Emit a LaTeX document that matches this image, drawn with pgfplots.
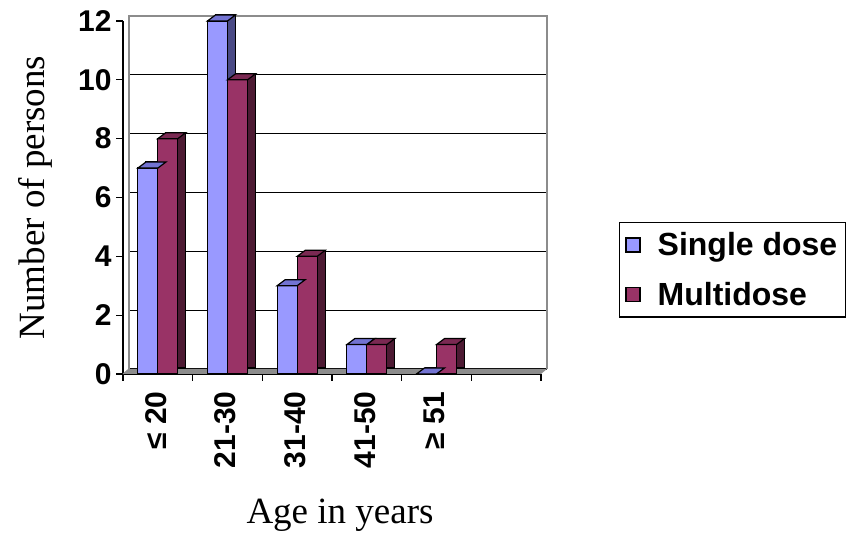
\documentclass[border=0pt]{standalone}
\usepackage{fontspec}
\setmainfont{Liberation Serif}
\newfontfamily\arial{Liberation Sans}
\usepackage{pgfplots}
\pgfplotsset{compat=1.18}

\definecolor{sFront}{HTML}{9999FF}
\definecolor{sTop}{HTML}{7373D2}
\definecolor{sSide}{HTML}{4A4A85}
\definecolor{mFront}{HTML}{993366}
\definecolor{mTop}{HTML}{7A2952}
\definecolor{mSide}{HTML}{4D1A33}
\definecolor{wall}{HTML}{8C8C8C}

% slanted top face of a 3D column, 20pt wide, 8pt x 6pt depth
\pgfdeclareplotmark{topface}{%
  \pgfpathmoveto{\pgfpoint{-10pt}{0pt}}%
  \pgfpathlineto{\pgfpoint{10pt}{0pt}}%
  \pgfpathlineto{\pgfpoint{18pt}{6pt}}%
  \pgfpathlineto{\pgfpoint{-2pt}{6pt}}%
  \pgfpathclose
  \pgfusepathqfillstroke}

\pgfplotstableread{
x single multi
0 7  8
1 12 10
2 3  4
3 1  1
4 0  1
}\agedata

\begin{document}
\begin{tikzpicture}
\path[use as bounding box] (0,0) rectangle (848pt,535pt);
\begin{axis}[
  at={(123pt,161pt)}, anchor=south west,
  scale only axis, width=418pt, height=353pt,
  xmin=-0.5, xmax=5.5, ymin=0, ymax=12,
  clip=false,
  axis x line*=bottom, axis y line*=left,
  axis line style={black, line width=1.2pt},
  xtick={-0.5,0.5,...,5.5},
  x tick label as interval,
  xticklabels={≤ 20,21-30,31-40,41-50,≥ 51,{}},
  ytick={0,2,...,12},
  tick align=outside,
  major tick length=7pt,
  tick style={black, line width=1.2pt},
  /pgf/number format/assume math mode=true,
  tick label style={font=\arial\bfseries\fontsize{30}{36}\selectfont},
  xticklabel style={rotate=90, anchor=east, xshift=-7pt, yshift=2pt},
  yticklabel style={xshift=-1pt},
  ymajorgrids,
  major grid style={black, line width=1.2pt, xshift=6pt, yshift=5pt},
  xlabel={Age in years},
  ylabel={Number of persons},
  label style={font=\fontsize{37}{42}\selectfont},
  x label style={at={(axis description cs:0.5,0)}, anchor=center, yshift=-141pt, xshift=8pt},
  y label style={at={(axis description cs:0,0.5)}, anchor=center, yshift=88pt},
  legend style={at={(rel axis cs:1.7297,0.4306)}, anchor=north east,
    draw=black, line width=1.5pt, font=\arial\bfseries\fontsize{32}{38}\selectfont,
    inner xsep=6pt, inner ysep=8pt, row sep=21pt, column sep=15pt, cells={anchor=west}},
  legend image code/.code={\draw[#1, line width=1.2pt] (0pt,-7pt) rectangle (14pt,7pt);},
]
% floor and back wall
\fill[wall] (axis cs:-0.5,0) -- (axis cs:5.5,0) -- ([shift={(6pt,5pt)}]axis cs:5.5,0) -- ([shift={(6pt,5pt)}]axis cs:-0.5,0) -- cycle;
\draw[wall, line width=1.5pt] ([shift={(6pt,5pt)}]axis cs:-0.5,0) -- ([shift={(6pt,5pt)}]axis cs:-0.5,12) -- ([shift={(6pt,5pt)}]axis cs:5.5,12) -- ([shift={(6pt,5pt)}]axis cs:5.5,0);
\draw[wall, line width=1pt] ([shift={(6pt,5pt)}]axis cs:-0.5,0) -- (axis cs:-0.5,0);

% Single dose
\addplot[ybar, bar width=20pt, bar shift=-2pt, yshift=6pt, fill=sSide, draw=black, line width=1.2pt, forget plot] table[x=x, y=single] {\agedata};
\addplot[ybar, bar width=20pt, bar shift=-10pt, fill=sFront, draw=black, line width=1.2pt] table[x=x, y=single] {\agedata};
\addlegendentry{Single dose}
\addplot[only marks, mark=topface, xshift=-10pt, mark options={fill=sTop, draw=black, line width=1.2pt}, forget plot] table[x=x, y=single] {\agedata};

% Multidose
\addplot[ybar, bar width=20pt, bar shift=18pt, yshift=6pt, fill=mSide, draw=black, line width=1.2pt, forget plot] table[x=x, y=multi] {\agedata};
\addplot[ybar, bar width=20pt, bar shift=10pt, fill=mFront, draw=black, line width=1.2pt] table[x=x, y=multi] {\agedata};
\addlegendentry{Multidose}
\addplot[only marks, mark=topface, xshift=10pt, mark options={fill=mTop, draw=black, line width=1.2pt}, forget plot] table[x=x, y=multi] {\agedata};
\end{axis}
\end{tikzpicture}
\end{document}
